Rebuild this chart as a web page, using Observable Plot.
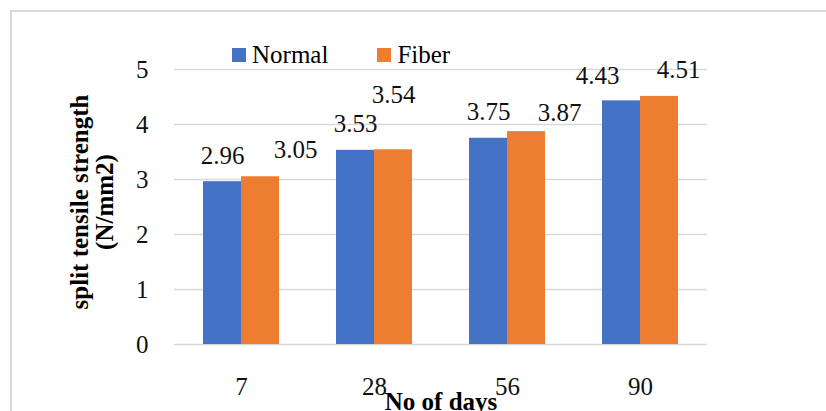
<!DOCTYPE html>
<html>
<head>
<meta charset="utf-8">
<script src="https://cdn.jsdelivr.net/npm/d3@7"></script>
<script src="https://cdn.jsdelivr.net/npm/@observablehq/plot@0.6"></script>
<style>
  html, body { margin: 0; padding: 0; background: #fff; }
  #wrap { position: relative; width: 826px; height: 411px; overflow: hidden; font-family: "Liberation Serif", "Times New Roman", serif; }
  #border { position: absolute; left: 10px; top: 10px; width: 840px; height: 440px; border: 2px solid #d9d9d9; box-sizing: border-box; }
  #chart { position: absolute; left: 0; top: 0; }
  #chart svg text { font-family: "Liberation Serif", "Times New Roman", serif; }
  #legend { position: absolute; left: 232px; top: 42px; height: 25px; display: flex; align-items: center; font-size: 25px; line-height: 1; color: #000; }
  #legend .item { display: flex; align-items: center; margin-right: 49px; }
  #legend .sw { width: 14px; height: 14px; margin-right: 6px; }
</style>
</head>
<body>
<div id="wrap">
  <div id="border"></div>
  <div id="chart"></div>
  <div id="legend"></div>
</div>
<script>
// Curing age (days) and split tensile strength (N/mm2) of each mix
const days = ["7", "28", "56", "90"];
const normal = [2.96, 3.53, 3.75, 4.43];
const fiber = [3.05, 3.54, 3.87, 4.51];
const series = ["Normal", "Fiber"];
const yTicks = [0, 1, 2, 3, 4, 5];
const colors = ["#4472C4", "#ED7D31"];

// Hand-placed label nudges (dx, dy in px) so neighbouring value labels don't collide
const labelNudge = {
  Normal: [[0, 0], [0, 0], [0, 0], [-24, 1]],
  Fiber: [[35, -1], [0, -29], [33, 7], [19, 0]]
};

const serif = "'Liberation Serif', 'Times New Roman', serif";
const rows = days.map((d, i) => ({day: d, Normal: normal[i], Fiber: fiber[i]}));

const half = 38; // half of each day's band: one bar per series
const labelMarks = [];
series.forEach((s, si) => {
  rows.forEach((r, i) => {
    const [nx, ny] = labelNudge[s][i];
    labelMarks.push(Plot.text([r], {
      x: "day", y: s, text: d => d[s].toFixed(2),
      dx: (si === 0 ? -half / 2 : half / 2) + nx,
      dy: -18 + ny,
      lineAnchor: "bottom", fontSize: 25, fontFamily: serif, fill: "#111"
    }));
  });
});

const chart = Plot.plot({
  width: 826,
  height: 411,
  marginLeft: 174,
  marginRight: 119,
  marginTop: 69,
  marginBottom: 67,
  style: {fontFamily: serif, fontSize: "25px", color: "#111", background: "transparent", overflow: "hidden"},
  x: {domain: days, paddingInner: 0.43, paddingOuter: 0.215},
  y: {domain: [0, 5]},
  marks: [
    Plot.ruleY(yTicks, {stroke: "#d9d9d9", strokeWidth: 1.3}),
    Plot.barY(rows, {x: "day", y: "Normal", fill: colors[0], insetRight: half}),
    Plot.barY(rows, {x: "day", y: "Fiber", fill: colors[1], insetLeft: half}),
    ...labelMarks,
    Plot.axisY(yTicks, {tickSize: 0, tickPadding: 26, fontSize: 25, fontFamily: serif, tickFormat: d => String(d), label: null}),
    Plot.axisX(days, {tickSize: 0, tickPadding: 33, fontSize: 25, fontFamily: serif, label: null}),
    // axis titles
    Plot.text(["split tensile strength\n(N/mm2)"], {
      frameAnchor: "left", rotate: -90, dx: -82, dy: -5,
      textAnchor: "middle", lineAnchor: "middle", lineHeight: 1,
      fontSize: 25, fontWeight: "bold", fontFamily: serif, fill: "#000"
    }),
    Plot.text(["No of days"], {
      frameAnchor: "bottom", dy: 65, lineAnchor: "bottom",
      fontSize: 25, fontWeight: "bold", fontFamily: serif, fill: "#000"
    })
  ]
});
document.getElementById("chart").append(chart);

// Series legend
const legend = d3.select("#legend");
series.forEach((s, i) => {
  const item = legend.append("div").attr("class", "item");
  item.append("div").attr("class", "sw").style("background", colors[i]);
  item.append("span").text(s);
});
</script>
</body>
</html>
